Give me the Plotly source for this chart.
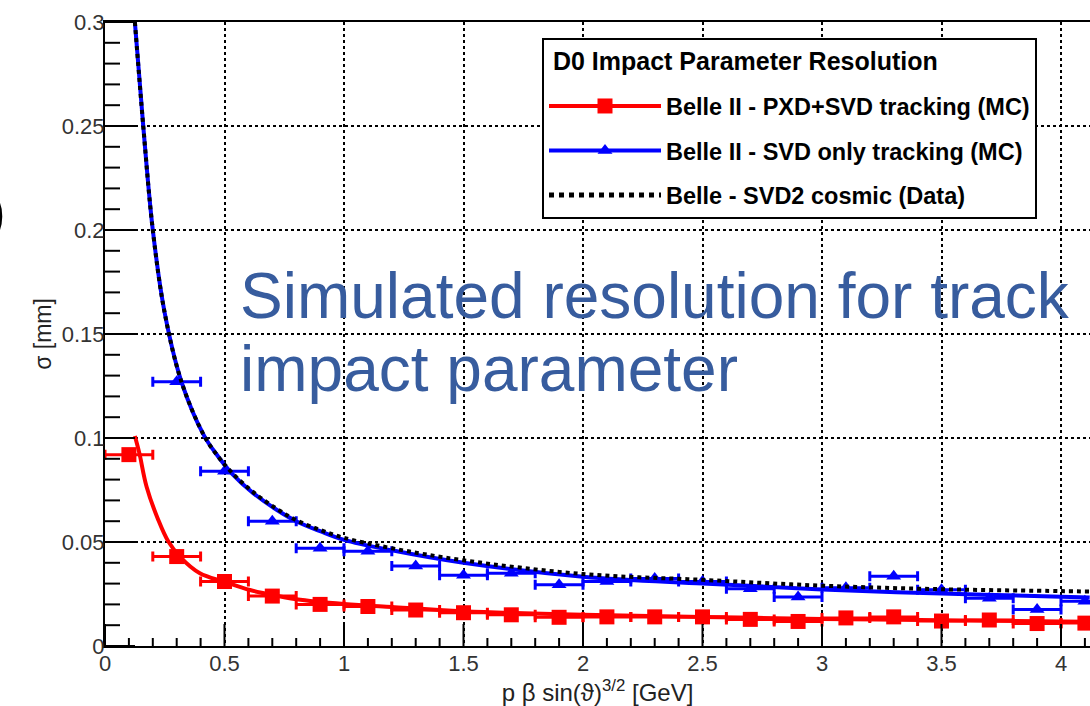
import plotly.graph_objects as go

# ---------------- data ----------------
red_x = [0.1, 0.3, 0.5, 0.7, 0.9, 1.1, 1.3, 1.5, 1.7, 1.9, 2.1, 2.3, 2.5, 2.7, 2.9, 3.1, 3.3, 3.5, 3.7, 3.9, 4.1]
red_y = [0.092, 0.043, 0.031, 0.024, 0.020, 0.019, 0.0173, 0.016, 0.015, 0.0138, 0.014, 0.014, 0.014,
         0.0128, 0.0118, 0.0135, 0.014, 0.012, 0.0125, 0.0108, 0.011]
red_xerr = [0.1] * len(red_x)

blue_x = [0.3, 0.5, 0.7, 0.9, 1.1, 1.3, 1.5, 1.7, 1.9, 2.1, 2.3, 2.5, 2.7, 2.9, 3.1, 3.3, 3.5, 3.7, 3.9, 4.1]
blue_y = [0.127, 0.084, 0.060, 0.047, 0.0455, 0.0385, 0.034, 0.035, 0.0295, 0.031, 0.0325, 0.031,
          0.0275, 0.0235, 0.028, 0.0335, 0.027, 0.023, 0.0175, 0.0215]
blue_xerr = [0.1] * len(blue_x)

red_fit_x = [0.125, 0.144, 0.174, 0.223, 0.265, 0.314, 0.397, 0.5, 0.607, 0.7, 0.8, 1.0, 1.2, 1.5,
             2.0, 2.5, 3.0, 3.5, 4.0, 4.12]
red_fit_y = [0.101, 0.0926, 0.0766, 0.0606, 0.0502, 0.0429, 0.035, 0.0309, 0.0269, 0.0245, 0.0225,
             0.0202, 0.0187, 0.0167, 0.015, 0.014, 0.013, 0.0124, 0.0118, 0.0117]

blue_fit_x = [0.125, 0.16, 0.2, 0.25, 0.32, 0.415, 0.474, 0.53, 0.62, 0.718, 0.8, 0.9, 1.0, 1.2, 1.5,
              2.0, 2.5, 3.0, 3.5, 4.0, 4.12]
blue_fit_y = [0.300, 0.250, 0.200, 0.160, 0.127, 0.101, 0.091, 0.083, 0.0735, 0.0655, 0.060, 0.0552,
              0.051, 0.046, 0.0400, 0.0333, 0.0300, 0.0272, 0.0252, 0.0237, 0.0233]

cosmic_x = [0.125, 0.16, 0.2, 0.25, 0.32, 0.415, 0.474, 0.53, 0.62, 0.718, 0.8, 0.9, 1.0, 1.2, 1.5,
            2.0, 2.5, 3.0, 3.5, 4.0, 4.12]
cosmic_y = [0.300, 0.250, 0.200, 0.160, 0.127, 0.101, 0.091, 0.0835, 0.074, 0.066, 0.0605, 0.0558,
            0.052, 0.047, 0.0412, 0.0346, 0.0318, 0.0290, 0.0273, 0.0264, 0.0262]

legend_labels = ["Belle II - PXD+SVD tracking (MC)",
                 "Belle II - SVD only tracking (MC)",
                 "Belle - SVD2 cosmic (Data)"]
legend_title = "D0 Impact Parameter Resolution"
overlay_lines = ["Simulated resolution for track", "impact parameter"]

# ---------------- figure ----------------
W, H = 1090, 706
ML, MR, MT, MB = 105, 0, 22, 60
PW, PH = W - ML - MR, H - MT - MB
FONT = "Liberation Sans, Arial, sans-serif"
RED, BLUE = "#ff0000", "#0000ff"
X_MAX = PW / 239.0
Y_MAX = 0.3
X_PER_PX = X_MAX / PW
Y_PER_PX = Y_MAX / PH


def px_x(p):
    return (p - ML) / PW


def px_y(p):
    return (H - MB - p) / PH


fig = go.Figure()

fig.add_trace(go.Scatter(x=red_fit_x, y=red_fit_y, mode="lines", line=dict(color=RED, width=4, shape="spline"),
                         showlegend=False, hoverinfo="skip"))
fig.add_trace(go.Scatter(x=red_x, y=red_y, mode="markers",
                         marker=dict(symbol="square", size=15, color=RED),
                         error_x=dict(type="data", array=red_xerr, color=RED, thickness=3, width=5),
                         showlegend=False))
fig.add_trace(go.Scatter(x=blue_fit_x, y=blue_fit_y, mode="lines", line=dict(color=BLUE, width=4, shape="spline"),
                         showlegend=False, hoverinfo="skip"))
fig.add_trace(go.Scatter(x=blue_x, y=blue_y, mode="markers",
                         marker=dict(symbol="triangle-up", size=13, color=BLUE),
                         error_x=dict(type="data", array=blue_xerr, color=BLUE, thickness=3, width=5),
                         showlegend=False))
fig.add_trace(go.Scatter(x=cosmic_x, y=cosmic_y, mode="lines",
                         line=dict(color="black", width=4, dash="dot", shape="spline"),
                         showlegend=False, hoverinfo="skip"))

# ROOT-style inside tick marks (major + minor) built on the axes' scales
tx, ty = [], []
i = 0
while i * 0.1 <= X_MAX + 1e-9:
    xv = round(i * 0.1, 3)
    length = (22 if i % 5 == 0 else 8) * Y_PER_PX
    tx += [xv, xv, None]
    ty += [0, length, None]
    i += 1
j = 0
while j * 0.01 <= Y_MAX + 1e-9:
    yv = round(j * 0.01, 4)
    length = (30 if j % 5 == 0 else 15) * X_PER_PX
    tx += [0, length, None]
    ty += [yv, yv, None]
    j += 1
fig.add_trace(go.Scatter(x=tx, y=ty, mode="lines", line=dict(color="black", width=2),
                         showlegend=False, hoverinfo="skip", cliponaxis=False))

fig.add_trace(go.Scatter(x=[None], y=[None], mode="lines+markers", name=legend_labels[0], legendgroup="a",
                         line=dict(color=RED, width=4), marker=dict(symbol="square", size=15, color=RED)))
fig.add_trace(go.Scatter(x=[None], y=[None], mode="lines+markers", name=legend_labels[1], legendgroup="b",
                         line=dict(color=BLUE, width=4), marker=dict(symbol="triangle-up", size=13, color=BLUE)))
fig.add_trace(go.Scatter(x=[None], y=[None], mode="lines", name=legend_labels[2], legendgroup="c",
                         line=dict(color="black", width=5, dash="dot")))

axis_common = dict(
    showline=True, linecolor="black", linewidth=2, mirror=True,
    showgrid=True, gridcolor="black", griddash="dot", gridwidth=1.5,
    ticks="", zeroline=False, automargin=False,
    tickfont=dict(family=FONT, size=22, color="#333333"),
)

fig.update_layout(
    template="none",
    width=W, height=H,
    margin=dict(l=ML, r=MR, t=MT, b=MB, pad=0),
    paper_bgcolor="white", plot_bgcolor="white",
    xaxis=dict(range=[0, X_MAX], dtick=0.5, tick0=0, ticklabelstandoff=-3,
               title=dict(text="p β sin(ϑ)<sup>3/2</sup> [GeV]", font=dict(family=FONT, size=24, color="#222222"),
                          standoff=0),
               **axis_common),
    yaxis=dict(range=[0, Y_MAX], dtick=0.05, tick0=0, ticklabelstandoff=-6,
               title=dict(text="σ [mm]", font=dict(family=FONT, size=23, color="#222222"), standoff=4),
               **axis_common),
    legend=dict(
        x=px_x(542), y=px_y(38), xanchor="left", yanchor="top",
        bgcolor="white", bordercolor="black", borderwidth=2,
        font=dict(family=FONT, size=23.5, color="black", weight="bold"),
        title=dict(text="<sup><span style='font-size:25px'>&nbsp;" + legend_title + "</span></sup>",
                   font=dict(family=FONT, size=34, color="black", weight="bold")),
        itemwidth=112, traceorder="grouped", tracegroupgap=11,
    ),
    showlegend=True,
)

tops = [258, 331]
for txt, top in zip(overlay_lines, tops):
    fig.add_annotation(xref="paper", yref="paper", x=px_x(238), y=px_y(top), xanchor="left", yanchor="top",
                       text=txt, showarrow=False, font=dict(family=FONT, size=64, color="#375C9E"))

fig.add_annotation(xref="paper", yref="paper", x=px_x(8), y=px_y(211), xanchor="right", yanchor="middle",
                   text=")", showarrow=False, font=dict(family=FONT, size=60, color="black"))

fig.write_html("out.html")
